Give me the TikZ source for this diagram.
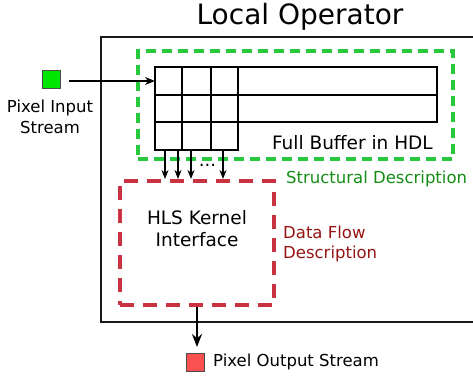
\documentclass[tikz,border=0pt]{standalone}
\usepackage{fontspec}
\setmainfont{DejaVu Sans}
\usetikzlibrary{arrows.meta}
\definecolor{structgreen}{RGB}{40,200,60}
\definecolor{structtext}{RGB}{20,140,20}
\definecolor{flowred}{RGB}{200,50,65}
\definecolor{flowtext}{RGB}{150,20,20}
\definecolor{inbox}{RGB}{0,230,0}
\definecolor{outbox}{RGB}{250,80,80}
\begin{document}
\begin{tikzpicture}[x=1pt,y=-1pt,
  lbl/.style={font=\fontsize{16.5}{20.5}\selectfont, inner sep=0pt, align=center},
  biglbl/.style={font=\fontsize{18.5}{22}\selectfont, inner sep=0pt, align=center},
  arr/.style={draw=black, line width=1.8pt, -{Stealth[length=10pt,width=8pt]}},
  taparr/.style={draw=black, line width=1.8pt, -{Stealth[length=9pt,width=7pt]}},
  outarr/.style={draw=black, line width=1.8pt, -{Stealth[length=13pt,width=10pt]}},
  gridline/.style={draw=black, line width=2pt},
  swatch/.style={draw=black!70, line width=0.8pt, minimum size=18pt, inner sep=0pt}]
\useasboundingbox (0,0) rectangle (473,379);

% local operator frame
\draw[line width=2pt, draw=black!90] (480,37) -- (101,37) -- (101,322) -- (480,322);
\node[font=\fontsize{28}{32}\selectfont, inner sep=0pt] (title) at (300,17) {Local Operator};

% structural part: line buffer in HDL
\node[draw=structgreen, dash pattern=on 10pt off 6pt, line width=3.5pt,
      minimum width=315pt, minimum height=108pt, inner sep=0pt] (hdl) at (295.5,105) {};
\node[lbl, text=structtext, anchor=west] (hdllbl) at (286,179) {Structural Description};

% buffer rows and window cells
\draw[gridline] (155,67) rectangle (437,122);
\draw[gridline] (155,95) -- (437,95);
\draw[gridline] (155,67) rectangle (238,150);
\draw[gridline] (155,122) -- (238,122);
\draw[gridline] (182,67) -- (182,150);
\draw[gridline] (211,67) -- (211,150);
\coordinate (win) at (155,81);
\node[biglbl, anchor=east] (buflbl) at (433,143) {Full Buffer in HDL};

% pixel input
\node[swatch, fill=inbox] (in) at (51,79) {};
\node[lbl] (inlbl) at (50,117) {Pixel Input\\Stream};
\coordinate (instart) at (69,81);
\draw[arr] (instart) -- (win);

% data flow part: HLS kernel
\node[draw=flowred, dash pattern=on 14pt off 9pt, line width=4pt,
      minimum width=154pt, minimum height=124pt, inner sep=0pt] (hls) at (197,243) {};
\node[biglbl] (hlslbl) at (197,229) {HLS Kernel\\Interface};
\node[lbl, text=flowtext, align=left, anchor=west] (flowlbl) at (283,244) {Data Flow\\Description};

% window taps into the kernel
\foreach \x/\n in {165/a,178/b,191/c,223/d}{
  \coordinate (t\n) at (\x,151);
  \coordinate (h\n) at (\x,179);
  \draw[taparr] (t\n) -- (h\n);
}
\node[font=\fontsize{18}{20}\selectfont, inner sep=0pt] (dots) at (207.5,165) {...};

% pixel output
\coordinate (outend) at (197,347);
\draw[outarr] (hls.south) -- (outend);
\node[swatch, fill=outbox] (out) at (195,362) {};
\node[lbl, anchor=west] (outlbl) at (213,362) {Pixel Output Stream};
\end{tikzpicture}
\end{document}
